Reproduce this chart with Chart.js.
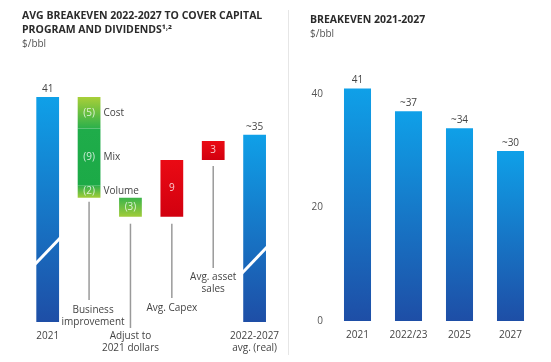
<!DOCTYPE html>
<html>
<head>
<meta charset="utf-8">
<script src="https://cdn.jsdelivr.net/npm/chart.js@4.4.1/dist/chart.umd.min.js"></script>
<style>
  body { margin: 0; background: #fff; }
  #wrap { position: relative; width: 551px; height: 362px; overflow: hidden; }
  #leftBox { position: absolute; left: 0; top: 0; }
  #rightBox { position: absolute; left: 288px; top: 0; }
  #sep { position: absolute; left: 288px; top: 10px; width: 1px; height: 345px; background: #e6e6e6; }
</style>
</head>
<body>
<div id="wrap">
  <div id="leftBox"><canvas id="bridgeChart" width="288" height="362"></canvas></div>
  <div id="sep"></div>
  <div id="rightBox"><canvas id="trendChart" width="263" height="362"></canvas></div>
</div>
<script>
// ---- data: left bridge ----
var stepNames = ['2021', 'Business improvement', 'Adjust to 2021 dollars', 'Avg. Capex', 'Avg. asset sales', '2022-2027 avg. (real)'];
var bridgeTicks = ['2021', '', '', '', '', ['2022-2027', 'avg. (real)']];
var callouts = [null, ['Business', 'improvement'], ['Adjust to', '2021 dollars'], ['Avg. Capex'], ['Avg. asset', 'sales'], null];
var start2021 = 41;
var costStep = -5, mixStep = -9, volumeStep = -2;
var adjustStep = -3, capexStep = 9, assetStep = 3;
var avg2227 = 35;
var blueTopLabels = ['41', null, null, null, null, '~35'];

// ---- data: right trend ----
var years = ['2021', '2022/23', '2025', '2027'];
var breakeven = [41, 37, 34, 30];
var breakevenText = ['41', '~37', '~34', '~30'];

var FONT = '"Open Sans", "Noto Sans", sans-serif';
Chart.defaults.font.family = FONT;
Chart.defaults.color = '#555';

// running totals for the bridge
var afterCost = start2021 + costStep;
var afterMix = afterCost + mixStep;
var afterVolume = afterMix + volumeStep;
var afterAdjust = afterVolume + adjustStep;
var afterCapex = afterAdjust + capexStep;
var afterAssets = afterCapex + assetStep;

function only(i, v) {
  var arr = [null, null, null, null, null, null];
  arr[i] = v;
  return arr;
}

function grad(c, lo, hi, top, bottom) {
  var chart = c.chart;
  var y = chart.scales.y;
  if (!chart.chartArea || !y) return top;
  var g = chart.ctx.createLinearGradient(0, y.getPixelForValue(hi), 0, y.getPixelForValue(lo));
  g.addColorStop(0, top);
  g.addColorStop(1, bottom);
  return g;
}

function segColor(top, bottom) {
  return function (c) {
    var r = c.raw;
    if (!r) return top;
    return grad(c, Math.min(r[0], r[1]), Math.max(r[0], r[1]), top, bottom);
  };
}

function blueColor(c) {
  var v = c.raw;
  if (v == null) return '#1a8fd8';
  return grad(c, c.chart.scales.y ? c.chart.scales.y.min : 0, v, '#0fa0e8', '#1e4ea6');
}

var yMinL = 5.3, yMaxL = 46.8;

var bridgeLabels = {
  id: 'bridgeLabels',
  afterDatasetsDraw: function (chart) {
    var ctx = chart.ctx;
    var area = chart.chartArea;
    var blue = chart.getDatasetMeta(0).data;
    ctx.save();
    // break marks on full bars
    [[0, -71], [5, -62]].forEach(function (b) {
      var bar = blue[b[0]];
      var cy = area.bottom + b[1];
      ctx.strokeStyle = '#fff';
      ctx.lineWidth = 3;
      ctx.beginPath();
      ctx.moveTo(bar.x - bar.width / 2 - 2, cy + 14);
      ctx.lineTo(bar.x + bar.width / 2 + 2, cy - 14);
      ctx.stroke();
    });
    // value labels above blue bars
    ctx.fillStyle = '#444';
    ctx.font = '10px ' + FONT;
    ctx.textAlign = 'center';
    ctx.textBaseline = 'bottom';
    blueTopLabels.forEach(function (t, i) {
      if (!t) return;
      ctx.fillText(t, blue[i].x, blue[i].y - 3);
    });
    // labels in segments
    ctx.textBaseline = 'middle';
    var segs = [[1, '(5)', 'Cost'], [2, '(9)', 'Mix'], [3, '(2)', 'Volume'], [4, '(3)', null], [5, '9', null], [6, '3', null]];
    segs.forEach(function (s) {
      var meta = chart.getDatasetMeta(s[0]);
      meta.data.forEach(function (bar, i) {
        if (chart.data.datasets[s[0]].data[i] == null) return;
        var cy = (bar.y + bar.base) / 2;
        ctx.fillStyle = 'rgba(255,255,255,0.78)';
        ctx.textAlign = 'center';
        ctx.fillText(s[1], bar.x, cy);
        if (s[2]) {
          ctx.fillStyle = '#444';
          ctx.textAlign = 'left';
          ctx.fillText(s[2], bar.x + bar.width / 2 + 3, cy);
        }
      });
    });
    // callout lines and texts
    var lineEnd = [0, -22, 6, -24, -54, 0];
    var textDx = [0, 4, 0, 0, 0, 0];
    var textDy = [0, 10, 8, 10, 9, 0];
    var xs = chart.scales.x;
    var ys = chart.scales.y;
    var lowest = [0, afterVolume, afterAdjust, afterAdjust, afterCapex, 0];
    var gaps = [0, 4, 7, 7, 6, 0];
    callouts.forEach(function (lines, i) {
      if (!lines) return;
      var x = xs.getPixelForValue(i);
      var y0 = ys.getPixelForValue(lowest[i]) + gaps[i];
      var y1 = area.bottom + lineEnd[i];
      ctx.strokeStyle = '#9a9a9a';
      ctx.lineWidth = 1.5;
      ctx.beginPath();
      ctx.moveTo(x, y0);
      ctx.lineTo(x, y1);
      ctx.stroke();
      ctx.fillStyle = '#444';
      ctx.textAlign = 'center';
      ctx.textBaseline = 'middle';
      lines.forEach(function (l, k) {
        ctx.fillText(l, x + textDx[i], y1 + textDy[i] + k * 12);
      });
    });
    ctx.restore();
  }
};

new Chart(document.getElementById('bridgeChart'), {
  type: 'bar',
  data: {
    labels: stepNames,
    datasets: [
      { label: 'Breakeven', data: [start2021, null, null, null, null, avg2227], backgroundColor: blueColor },
      { label: 'Cost', data: only(1, [afterCost, start2021]), backgroundColor: segColor('#a9cf38', '#2bb04b') },
      { label: 'Mix', data: only(1, [afterMix, afterCost]), backgroundColor: segColor('#1fac4a', '#1caa47') },
      { label: 'Volume', data: only(1, [afterVolume, afterMix]), backgroundColor: segColor('#2aae4a', '#a3cd39') },
      { label: 'Adjust', data: only(2, [afterAdjust, afterVolume]), backgroundColor: segColor('#3cb44a', '#a0cc3a') },
      { label: 'Capex', data: only(3, [afterAdjust, afterCapex]), backgroundColor: segColor('#ea0a14', '#d2000f') },
      { label: 'Assets', data: only(4, [afterCapex, afterAssets]), backgroundColor: segColor('#ea0a14', '#d2000f') }
    ].map(function (d) {
      d.grouped = false;
      d.barPercentage = 0.55;
      d.categoryPercentage = 1;
      d.clip = 0;
      return d;
    })
  },
  options: {
    responsive: false,
    animation: false,
    devicePixelRatio: 1,
    layout: { padding: { left: 22, right: 11, top: 0, bottom: 0 } },
    plugins: {
      legend: { display: false },
      tooltip: { enabled: false },
      title: {
        display: true,
        align: 'start',
        text: ['AVG BREAKEVEN 2022-2027 TO COVER CAPITAL', 'PROGRAM AND DIVIDENDS\u00b9\u02d2\u00b2'],
        color: '#2b2b2b',
        font: { size: 10.5, weight: 'bold', lineHeight: 1.35 },
        padding: { top: 9, bottom: 0 }
      },
      subtitle: {
        display: true,
        align: 'start',
        text: '$/bbl',
        color: '#555',
        font: { size: 10, lineHeight: 1.3 },
        padding: { top: 0, bottom: 10 }
      }
    },
    scales: {
      x: {
        grid: { display: false, drawTicks: false },
        border: { display: false },
        ticks: {
          padding: 8,
          color: '#444',
          font: { size: 10, lineHeight: 1.2 },
          maxRotation: 0,
          autoSkip: false,
          callback: function (v, i) { return bridgeTicks[i]; }
        }
      },
      y: {
        min: yMinL,
        max: yMaxL,
        grid: { display: false, drawTicks: false },
        border: { display: false },
        ticks: { display: false },
        afterFit: function (s) { s.width = 5; }
      }
    }
  },
  plugins: [bridgeLabels]
});

var trendLabels = {
  id: 'trendLabels',
  afterDatasetsDraw: function (chart) {
    var ctx = chart.ctx;
    ctx.save();
    ctx.fillStyle = '#444';
    ctx.font = '10px ' + FONT;
    ctx.textAlign = 'center';
    ctx.textBaseline = 'bottom';
    chart.getDatasetMeta(0).data.forEach(function (bar, i) {
      ctx.fillText(breakevenText[i], bar.x, bar.y - 3);
    });
    ctx.restore();
  }
};

new Chart(document.getElementById('trendChart'), {
  type: 'bar',
  data: {
    labels: years,
    datasets: [{
      label: 'Breakeven',
      data: breakeven,
      barPercentage: 0.53,
      categoryPercentage: 1,
      backgroundColor: function (c) {
        if (c.raw == null) return '#1a8fd8';
        return grad(c, 0, c.raw, '#0fa0e8', '#1e4ea6');
      }
    }]
  },
  options: {
    responsive: false,
    animation: false,
    devicePixelRatio: 1,
    layout: { padding: { left: 22, right: 15, top: 0, bottom: 13 } },
    plugins: {
      legend: { display: false },
      tooltip: { enabled: false },
      title: {
        display: true,
        align: 'start',
        text: 'BREAKEVEN 2021-2027',
        color: '#2b2b2b',
        font: { size: 10.5, weight: 'bold', lineHeight: 1.35 },
        padding: { top: 13, bottom: 0 }
      },
      subtitle: {
        display: true,
        align: 'start',
        text: '$/bbl',
        color: '#555',
        font: { size: 10, lineHeight: 1.3 },
        padding: { top: 0, bottom: 20 }
      }
    },
    scales: {
      x: {
        grid: { display: false, drawTicks: false },
        border: { display: false },
        ticks: { padding: 8, color: '#444', font: { size: 10 } }
      },
      y: {
        min: 0,
        max: 46,
        grid: { display: false, drawTicks: false },
        border: { display: false },
        ticks: { stepSize: 20, includeBounds: false, padding: 9, color: '#555', font: { size: 10 } },
        afterFit: function (s) { s.width = 22; }
      }
    }
  },
  plugins: [trendLabels]
});
</script>
</body>
</html>
